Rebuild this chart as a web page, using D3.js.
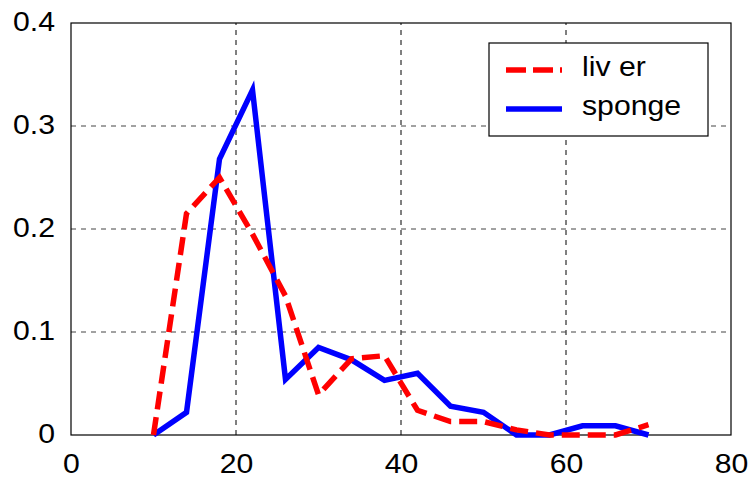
<!DOCTYPE html>
<html><head><meta charset="utf-8">
<script src="https://cdn.jsdelivr.net/npm/d3@7"></script>
<style>body{margin:0;background:#fff}svg{display:block}</style>
</head><body>
<script>
const xValues = [10,14,18,22,26,30,34,38,42,46,50,54,58,62,66,70];
const liver  = [0,0.215,0.25,0.195,0.135,0.039,0.074,0.077,0.024,0.013,0.013,0.005,0,0,0,0.01];
const sponge = [0,0.022,0.268,0.335,0.054,0.085,0.073,0.053,0.06,0.028,0.022,0,0,0.009,0.009,0];
const xTicks = [0,20,40,60,80];
const yTicks = [0,0.1,0.2,0.3,0.4];
const seriesNames = ["liv er","sponge"];

const W=751,H=481;
const m={l:71,r:20,t:23,b:46};
const SX=1.12, FS=27;
const svg=d3.select("body").append("svg").attr("width",W).attr("height",H);
const x=d3.scaleLinear().domain([0,80]).range([m.l,W-m.r]);
const y=d3.scaleLinear().domain([0,0.4]).range([H-m.b,m.t]);
const font="Liberation Sans, Arial, sans-serif";

// grid
const g=svg.append("g");
g.selectAll(".vg").data(xTicks.slice(1,-1)).join("line")
 .attr("x1",d=>x(d)).attr("x2",d=>x(d)).attr("y1",y(0)).attr("y2",y(0.4))
 .attr("stroke","#000").attr("stroke-width",1).attr("stroke-dasharray","5,5");
g.selectAll(".hg").data(yTicks.slice(1,-1)).join("line")
 .attr("x1",x(0)).attr("x2",x(80)).attr("y1",d=>y(d)).attr("y2",d=>y(d))
 .attr("stroke","#444").attr("stroke-width",1).attr("stroke-dasharray","5,5");

// axes
const xa=svg.append("g").attr("transform",`translate(0,${y(0)})`)
 .call(d3.axisBottom(x).tickValues(xTicks).tickSize(0).tickFormat(d3.format("d")));
const ya=svg.append("g").attr("transform",`translate(${x(0)},0)`)
 .call(d3.axisLeft(y).tickValues(yTicks).tickSize(0).tickFormat(d=>d===0?"0":d3.format(".1f")(d)));
[xa,ya].forEach(a=>{a.select(".domain").remove();a.selectAll("text").attr("font-family",font).attr("font-size",FS).attr("fill","#000").attr("transform",`scale(${SX},1)`);});
ya.selectAll("text").attr("x",-16/SX).attr("y",0).attr("dy",7);
xa.selectAll("text").attr("x",0).attr("y",38).attr("dy",0);

svg.append("rect").attr("x",x(0)).attr("y",y(0.4)).attr("width",x(80)-x(0)).attr("height",y(0)-y(0.4))
 .attr("fill","none").attr("stroke","#000").attr("stroke-width",1.2);

// lines
const line=d3.line().x((d,i)=>x(xValues[i])).y(d=>y(d));
svg.append("path").datum(sponge).attr("d",line).attr("fill","none").attr("stroke","#0000ff")
 .attr("stroke-width",5.5).attr("stroke-linejoin","miter");
svg.append("path").datum(liver).attr("d",line).attr("fill","none").attr("stroke","#ff0000")
 .attr("stroke-width",5.5).attr("stroke-dasharray","18,8");

// legend
const lg=svg.append("g");
lg.append("rect").attr("x",489).attr("y",43).attr("width",219).attr("height",93)
 .attr("fill","#fff").attr("stroke","#000").attr("stroke-width",1.2);
const colors=["#ff0000","#0000ff"];
const dashes=["20,7",null];
seriesNames.forEach((n,i)=>{
  const yy=70+i*39;
  lg.append("line").attr("x1",506).attr("x2",562).attr("y1",yy).attr("y2",yy)
   .attr("stroke",colors[i]).attr("stroke-width",5.5).attr("stroke-dasharray",dashes[i]);
  lg.append("text").attr("transform",`translate(582,${yy+6}) scale(${SX},1)`).text(n)
   .attr("font-family",font).attr("font-size",FS).attr("fill","#000");
});
</script>
</body></html>
